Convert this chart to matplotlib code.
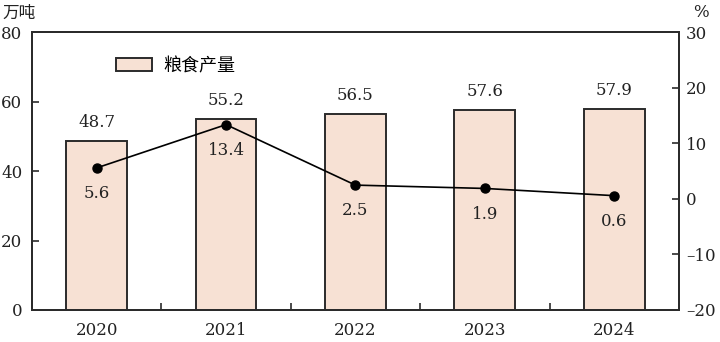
import matplotlib.pyplot as plt
from matplotlib.patches import Patch

years = ['2020', '2021', '2022', '2023', '2024']
output = [48.7, 55.2, 56.5, 57.6, 57.9]   # 万吨
growth = [5.6, 13.4, 2.5, 1.9, 0.6]       # %

num_font = 'DejaVu Serif'
cjk_font = ['Noto Sans CJK SC', 'DejaVu Sans']
bar_color = '#f7e1d4'
edge = '#2b2b2b'

fig = plt.figure(figsize=(7.2, 3.42), dpi=100)
ax = fig.add_axes([0.0444, 0.0936, 0.8986, 0.8114])
ax2 = ax.twinx()

x = range(len(years))
ax.bar(x, output, width=0.47, color=bar_color, edgecolor=edge, linewidth=1.4, zorder=2)
for i, v in enumerate(output):
    ax.annotate(f'{v:.1f}', (i, v), xytext=(0, 7), textcoords='offset points',
                ha='center', va='bottom', fontsize=12, family=num_font, color='#222')

ax2.plot(x, growth, color='black', linewidth=1.2, marker='o', markersize=6.5, zorder=3)
for i, v in enumerate(growth):
    ax2.annotate(f'{v:.1f}', (i, v), xytext=(0, -12.5), textcoords='offset points',
                 ha='center', va='top', fontsize=12, family=num_font, color='#222')

ax.set_xlim(-0.5, 4.5)
ax.set_ylim(0, 80)
ax2.set_ylim(-20, 30)
ax.set_yticks([0, 20, 40, 60, 80])
ax2.set_yticks([-20, -10, 0, 10, 20, 30])
ax2.set_yticklabels(['\u201320', '\u201310', '0', '10', '20', '30'])

# year labels under each bar, tick marks on the gaps between them
ax.set_xticks([0.5, 1.5, 2.5, 3.5])
ax.set_xticklabels([])
ax.tick_params(axis='x', direction='in', length=5, width=1.2, color=edge)
for i, y in enumerate(years):
    ax.text(i, -0.045, y, transform=ax.get_xaxis_transform(), ha='center', va='top',
            fontsize=12, family=num_font, color='#222')

for a, pad in ((ax, 7), (ax2, 5)):
    a.tick_params(axis='y', direction='in', length=5, width=1.2, color=edge,
                  labelsize=12, pad=pad, labelcolor='#222')
    for lbl in a.get_yticklabels():
        lbl.set_family(num_font)
    for s in a.spines.values():
        s.set_color(edge)
        s.set_linewidth(1.4)

fig.text(0.003, 0.962, '万吨', family=cjk_font, fontsize=12, color='#222', va='center')
fig.text(0.963, 0.962, '%', family=num_font, fontsize=12, color='#222', va='center')

ax.legend(handles=[Patch(facecolor=bar_color, edgecolor=edge, linewidth=1.4, label='粮食产量')],
          loc='upper left', bbox_to_anchor=(0.105, 0.97), frameon=False,
          prop={'family': cjk_font, 'size': 13}, handlelength=2.0, handleheight=0.75,
          handletextpad=0.6)

fig.savefig('out.png', dpi=100)
